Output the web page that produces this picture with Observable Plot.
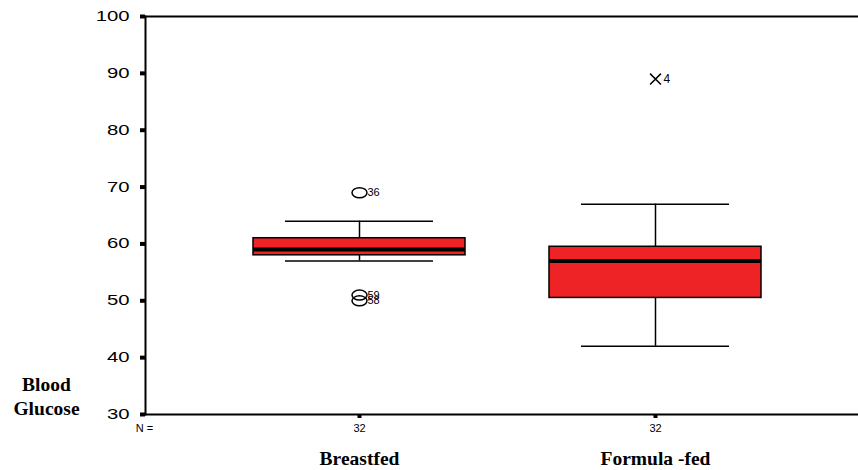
<!DOCTYPE html>
<html>
<head>
<meta charset="utf-8">
<script src="https://cdn.jsdelivr.net/npm/d3@7"></script>
<script src="https://cdn.jsdelivr.net/npm/@observablehq/plot@0.6"></script>
<style>
  html, body { margin: 0; padding: 0; background: #fff; }
  svg { display: block; }
</style>
</head>
<body>
<div id="chart"></div>
<script>
// ---- data ----
const groups = ["Breastfed", "Formula -fed"];
const counts = [32, 32];
const q1 = [58, 50.5];
const medians = [59, 57];
const q3 = [61, 59.5];
const lowWhisker = [57, 42];
const highWhisker = [64, 67];

const outlierGroup = ["Breastfed", "Breastfed", "Breastfed"];
const outlierValue = [69, 51, 50];
const outlierCase = ["36", "59", "58"];

const extremeGroup = ["Formula -fed"];
const extremeValue = [89];
const extremeCase = ["4"];

const yTicks = [30, 40, 50, 60, 70, 80, 90, 100];

// ---- tables built from the arrays ----
const boxes = groups.map((g, i) => ({
  group: g, n: counts[i], q1: q1[i], median: medians[i], q3: q3[i],
  lo: lowWhisker[i], hi: highWhisker[i]
}));
const outliers = outlierGroup.map((g, i) => ({group: g, value: outlierValue[i], label: outlierCase[i]}));
const extremes = extremeGroup.map((g, i) => ({group: g, value: extremeValue[i], label: extremeCase[i]}));

// SPSS-like flattened circle
const ellipse = {
  draw(ctx, size) {
    const r = Math.sqrt(size / Math.PI);
    const rx = r * 1.5, ry = r, k = 0.5523;
    ctx.moveTo(rx, 0);
    ctx.bezierCurveTo(rx, k * ry, k * rx, ry, 0, ry);
    ctx.bezierCurveTo(-k * rx, ry, -rx, k * ry, -rx, 0);
    ctx.bezierCurveTo(-rx, -k * ry, -k * rx, -ry, 0, -ry);
    ctx.bezierCurveTo(k * rx, -ry, rx, -k * ry, rx, 0);
    ctx.closePath();
  }
};

const font = "'Liberation Sans', Arial, Helvetica, sans-serif";
const serif = "'Liberation Serif', 'Times New Roman', serif";

const chart = Plot.plot({
  width: 858,
  height: 470,
  marginLeft: 145,
  marginRight: 0,
  marginTop: 16,
  marginBottom: 56,
  style: {fontFamily: font, color: "#000", background: "#fff", overflow: "visible"},
  x: {domain: groups, range: [211, 803], paddingInner: 0.284, paddingOuter: 0.142, axis: null},
  y: {domain: [30, 100], axis: null},
  marks: [
    Plot.frame({anchor: "left", stroke: "#000", strokeWidth: 2}),
    Plot.frame({anchor: "top", stroke: "#000", strokeWidth: 2}),
    Plot.frame({anchor: "bottom", stroke: "#000", strokeWidth: 2}),
    Plot.axisY({ticks: yTicks, tickSize: 5, tickPadding: 11, strokeWidth: 4, fontSize: 14, anchor: "left", label: null, ariaLabel: "y-axis"}),
    Plot.axisX({tickSize: 4, strokeWidth: 4, tickFormat: () => "", anchor: "bottom", label: null}),
    // whiskers
    Plot.ruleX(boxes, {x: "group", y1: "lo", y2: "q1", stroke: "#000", strokeWidth: 1.5}),
    Plot.ruleX(boxes, {x: "group", y1: "q3", y2: "hi", stroke: "#000", strokeWidth: 1.5}),
    Plot.tickY(boxes, {x: "group", y: "lo", stroke: "#000", strokeWidth: 1.5, insetLeft: 32, insetRight: 32}),
    Plot.tickY(boxes, {x: "group", y: "hi", stroke: "#000", strokeWidth: 1.5, insetLeft: 32, insetRight: 32}),
    // boxes
    Plot.barY(boxes, {x: "group", y1: "q1", y2: "q3", fill: "#ee2326", stroke: "#000", strokeWidth: 1.5}),
    Plot.tickY(boxes, {x: "group", y: "median", stroke: "#000", strokeWidth: 4}),
    // outliers
    Plot.dot(outliers, {x: "group", y: "value", r: 5, symbol: ellipse, stroke: "#000", strokeWidth: 1.5, fill: "none"}),
    Plot.text(outliers, {x: "group", y: "value", text: "label", dx: 8, textAnchor: "start", fontSize: 11, fill: "#000"}),
    Plot.dot(extremes, {x: "group", y: "value", r: 5, symbol: "times", stroke: "#000", strokeWidth: 1.5}),
    Plot.text(extremes, {x: "group", y: "value", text: "label", dx: 8, textAnchor: "start", fontSize: 12, fill: "#000"}),
    // N row
    Plot.text(["N ="], {frameAnchor: "bottom-left", dx: -1, dy: 17, textAnchor: "middle", fontSize: 11, fill: "#000"}),
    Plot.text(boxes, {x: "group", text: (d) => String(d.n), frameAnchor: "bottom", dy: 17, fontSize: 11, fill: "#000"}),
    // category labels
    Plot.text(boxes, {x: "group", text: "group", frameAnchor: "bottom", dy: 50, fontSize: 19.5, fontWeight: "bold", fontFamily: serif, fill: "#000"}),
    // y title
    Plot.text(["Blood\nGlucose"], {frameAnchor: "bottom-left", dx: -99, dy: 0, lineHeight: 1.2, textAnchor: "middle", fontSize: 19.5, fontWeight: "bold", fontFamily: serif, fill: "#000"})
  ]
});
// widen the y tick labels horizontally, as in the reference (right edge stays put)
chart.querySelectorAll('g[aria-label="y-axis tick label"] text').forEach((t) => {
  const tr = t.getAttribute("transform") || "";
  t.setAttribute("transform", tr + " scale(1.45,1)");
});
document.getElementById("chart").appendChild(chart);
</script>
</body>
</html>
